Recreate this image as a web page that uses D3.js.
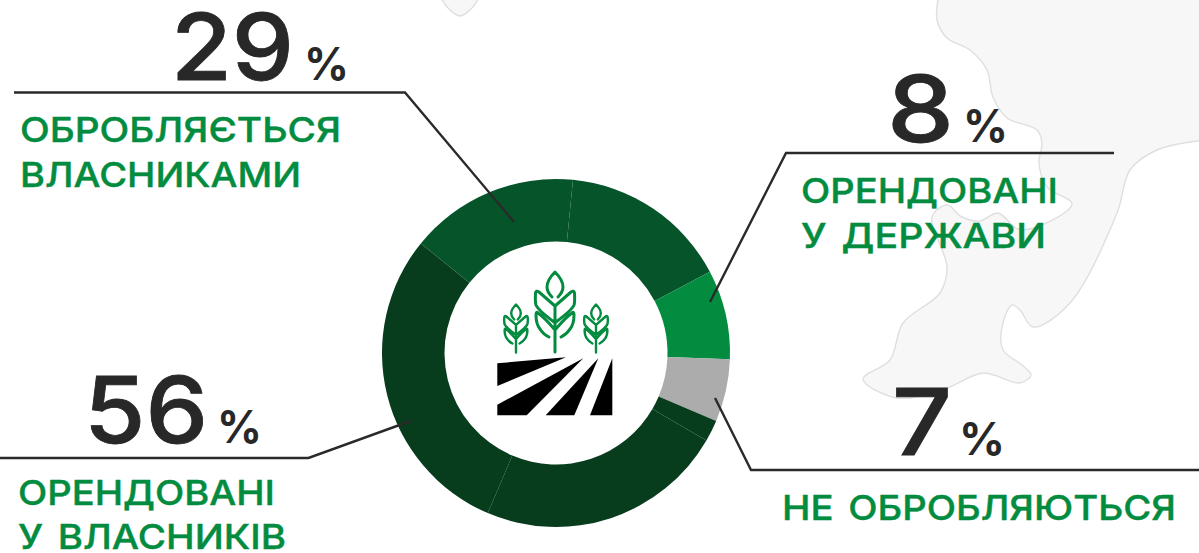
<!DOCTYPE html>
<html lang="uk">
<head>
<meta charset="utf-8">
<script src="https://cdn.jsdelivr.net/npm/d3@7"></script>
<style>
html,body{margin:0;padding:0;background:#fff;overflow:hidden}
svg{display:block}
text{font-family:Inter,"Noto Sans",sans-serif}
</style>
</head>
<body>
<svg id="chart" width="1199" height="553"></svg>
<script>
// Donut segments, clockwise from the seam just right of 12 o'clock (share of the ring, %)
const segmentNames = ["a1","b","c","d1","d2","d3","a2"];
const segmentValues = [15.7, 8.3, 5.8, 2.0, 23.0, 29.4, 15.7];
const segmentColors = ["#05542a","#038c3f","#acacac","#073c1d","#073c1d","#073c1d","#05542a"];

// Callouts
const bigNumbers = ["29","8","56","7"];
const bigX = [[175,290],[891,950],[88,204],[896,948]];
const bigBase = [80,142,443,455];
const pctX = [[306,347],[965,1006],[219,260],[961,1003]];
const labels = [["ОБРОБЛЯЄТЬСЯ",22,339,142],["ВЛАСНИКАМИ",22,299,187],
                ["ОРЕНДОВАНІ",803,1056,203],["У ДЕРЖАВИ",803,1044,248],
                ["ОРЕНДОВАНІ",20,273,505],["У ВЛАСНИКІВ",20,284,549],
                ["НЕ ОБРОБЛЯЮТЬСЯ",784,1174,520]];
const leaders = [[[14,92.5],[405,92.5],[514,222]],
                 [[1114,153],[786,153],[710,302]],
                 [[0,458],[308.5,458],[412,420.5]],
                 [[1199,470],[751,470],[715,398]]];

// Background map decoration
const mapOutline = [[939,-6],[937,20],[947,38],[970,50],[987,70],[993,97],[1007,118],[1037,130],[1042,143],[1039,163],
 [1047,187],[1072,204],[1037,227],[1018,229],[998,213],[980,221],[962,217],[947,205],[932,217],[947,267],[940,293],[903,323],[890,360],
 [863,379],[897,398],[947,388],[983,373],[1020,383],[1031,375],[1022,365],[1003,350],[1002,327],[1012,305],[1020,310],
 [1033,327],[1070,303],[1117,213],[1130,170],[1157,150],[1205,140]];
const mapIslet = [[440,-4],[448,8],[460,16],[472,8],[480,-4]];

const svg = d3.select("#chart");
const curve = d3.line().curve(d3.curveCatmullRom.alpha(0.5));

// Map
svg.append("path").attr("d", curve(mapOutline) + "L1205,-6Z")
  .attr("fill","#f7f7f7").attr("stroke","#dfdfdf").attr("stroke-width",1.4);
svg.append("path").attr("d", curve(mapIslet))
  .attr("fill","#f7f7f7").attr("stroke","#dfdfdf").attr("stroke-width",1.4);

// Donut
const cx = 556, cy = 353;
const pie = d3.pie().sort(null).startAngle(5.6*Math.PI/180).endAngle((360+5.6)*Math.PI/180);
const arc = d3.arc().innerRadius(111.5).outerRadius(174);
svg.append("g").attr("transform",`translate(${cx},${cy})`)
  .selectAll("path").data(pie(segmentValues)).join("path")
  .attr("d",arc).attr("fill",(d,i)=>segmentColors[i]);

// Leaders
svg.append("g").selectAll("path").data(leaders).join("path")
  .attr("d",d3.line()).attr("fill","none").attr("stroke","#2a2a2a").attr("stroke-width",2.4);

// Numbers
function fitted(sel, x0, x1){ sel.attr("x",x0).attr("textLength",x1-x0).attr("lengthAdjust","spacingAndGlyphs"); }
bigNumbers.forEach((n,i)=>{
  svg.append("text").text(n).attr("y",bigBase[i]).attr("font-size",92).attr("font-weight",500)
    .attr("fill","#272827").attr("stroke","#272827").attr("stroke-width",0.8)
    .call(fitted,bigX[i][0]-4,bigX[i][1]+4);
  svg.append("text").text("%").attr("y",bigBase[i]).attr("font-size",45).attr("font-weight",700)
    .attr("fill","#272827").call(fitted,pctX[i][0]-2,pctX[i][1]+2);
});

// Labels
labels.forEach(l=>{
  svg.append("text").text(l[0]).attr("y",l[3]).attr("font-size",34.5).attr("font-weight",500)
    .attr("word-spacing",4)
    .attr("fill","#038c3f").attr("stroke","#038c3f").attr("stroke-width",0.4)
    .call(fitted,l[1]-2,l[2]+2);
});

// Icon: furrows
const furrows = [[[497.3,363.3],[566,357.3],[497.3,386]],
                 [[497.3,404.7],[583.3,358.3],[526.7,415.3],[497.3,415.3]],
                 [[545.7,415.3],[598.3,358.3],[574.3,415.3]],
                 [[590,415.3],[612.3,358.3],[612.3,415.3]]];
svg.append("g").selectAll("path").data(furrows).join("path")
  .attr("d",p=>d3.line()(p)+"Z").attr("fill","#000");

// Icon: plants
const plantShape = "M0,-80 C-4,-76 -8,-71 -8,-65 C-8,-60 -5,-57 -3,-55 M0,-80 C4,-76 8,-71 8,-65 C8,-60 5,-57 3,-55 "+
  "M0,-46 L-16,-60 Q-19,-62 -19.5,-59 Q-20,-50 -19,-47 Q-17,-42 -1,-30 " +
  "M0,-46 L16,-60 Q19,-62 19.5,-59 Q20,-50 19,-47 Q17,-42 1,-30 " +
  "M0,-22 Q-10,-34 -17,-39 Q-19,-41 -19,-37 Q-19,-28 -15,-23 Q-12,-18 -6,-15 " +
  "M0,-22 Q10,-34 17,-39 Q19,-41 19,-37 Q19,-28 15,-23 Q12,-18 6,-15 " +
  "M0,0 L0,-46";
[[555,352,1,3],[516,352.5,0.6,2.4],[596,352.5,0.6,2.4]].forEach(p=>{
  svg.append("path").attr("d",plantShape)
    .attr("transform",`translate(${p[0]},${p[1]}) scale(${p[2]})`)
    .attr("fill","none").attr("stroke","#038c3f").attr("stroke-width",p[3]/p[2])
    .attr("stroke-linecap","round").attr("stroke-linejoin","round");
});
</script>
</body>
</html>
